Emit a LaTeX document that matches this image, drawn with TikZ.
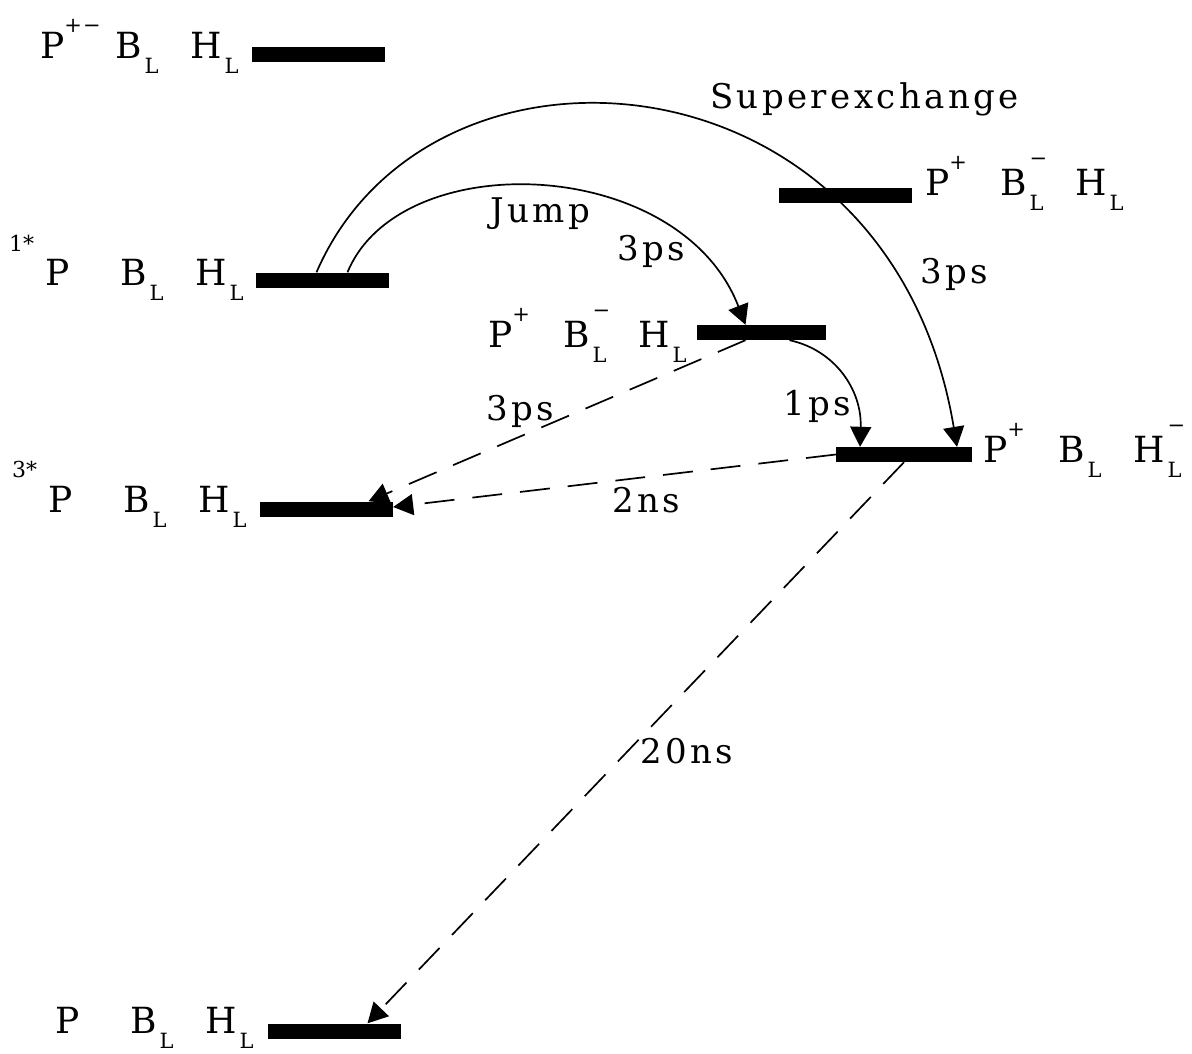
\documentclass[tikz,border=0pt]{standalone}
\usepackage{fontspec}
\setmainfont{DejaVu Serif}
\newfontfamily\annfont[LetterSpace=10]{DejaVu Serif}
\usetikzlibrary{arrows.meta,calc}

\newcommand{\supfont}{\fontsize{21}{21}\selectfont}
\newcommand{\subsup}[1]{\hspace{3pt}\rlap{\raisebox{30pt}{\supfont #1}}\raisebox{-15pt}{\supfont L}}
\newcommand{\statelabel}[3]{\makebox[75pt][l]{P\raisebox{26pt}{\supfont #1}}\makebox[75pt][l]{B\subsup{#2}}H\subsup{#3}}
\newcommand{\spinpre}[2]{\llap{\raisebox{#2}{\fontsize{22}{22}\selectfont #1}\hspace{11pt}}}

\begin{document}
\begin{tikzpicture}[x=1pt,y=-1pt,
    level/.style={rectangle,fill=black,inner sep=0pt,minimum width=133pt,minimum height=15pt},
    statelab/.style={inner sep=0pt,anchor=base west,font=\fontsize{36}{40}\selectfont},
    ann/.style={inner sep=0pt,anchor=base west,font=\annfont\fontsize{34}{40}\selectfont},
    conn/.style={line width=1.7pt,-{Triangle[length=20pt,width=21pt]}},
    dconn/.style={conn,dash pattern=on 30pt off 18pt}]
    \useasboundingbox (0,0) rectangle (1192,1053);

    % Levels
    \node[level] (top) at (318.5,54.5) {};
    \node[level] (singlet) at (322.5,280) {};
    \node[level,minimum width=129pt] (radpair) at (761.5,332.5) {};
    \node[level] (radpairup) at (845.5,195) {};
    \node[level,minimum width=136pt] (prh) at (904,454.5) {};
    \node[level] (triplet) at (326.5,509) {};
    \node[level] (ground) at (334.5,1031) {};

    % State labels
    \node[statelab] (toplab) at (40,58) {\statelabel{+\kern1pt−}{}{}};
    \node[statelab] (singletlab) at (45,285) {\spinpre{1*}{34pt}\statelabel{}{}{}};
    \node[statelab] (radpairlab) at (488,347) {\statelabel{+}{−}{}};
    \node[statelab] (radpairuplab) at (925,195) {\statelabel{+}{−}{}};
    \node[statelab] (prhlab) at (983,462) {\statelabel{+}{}{−}};
    \node[statelab] (tripletlab) at (48,512) {\spinpre{3*}{35pt}\statelabel{}{}{}};
    \node[statelab] (groundlab) at (55,1033) {\statelabel{}{}{}};

    % Transitions
    \draw[conn] ([xshift=-6pt]singlet.north) .. controls (430,10) and (890,45) .. ([xshift=53pt]prh.north);
    \draw[conn] ([xshift=25pt]singlet.north) .. controls (400,145) and (680,155) .. ([xshift=-16pt]radpair.north);
    \draw[conn] ([xshift=28pt]radpair.south) .. controls (835,350) and (862,390) .. ([xshift=-44pt]prh.north);
    \draw[dconn] ([xshift=-16pt]radpair.south) -- ([xshift=42pt]triplet.north);
    \draw[dconn] (prh.west) -- ([yshift=2pt]triplet.east);
    \draw[dconn] (prh.south) -- ([xshift=33pt]ground.north);

    % Rates
    \node[ann] (superlab) at (710,108) {Superexchange};
    \node[ann] (jumplab) at (490,222) {Jump};
    \node[ann] (jumprate) at (617,260) {3ps};
    \node[ann] (superrate) at (920,283) {3ps};
    \node[ann] (fastrate) at (783,415) {1ps};
    \node[ann] (triprate) at (486,420) {3ps};
    \node[ann] (recrate) at (612,512) {2ns};
    \node[ann] (groundrate) at (640,763) {20ns};
\end{tikzpicture}
\end{document}
